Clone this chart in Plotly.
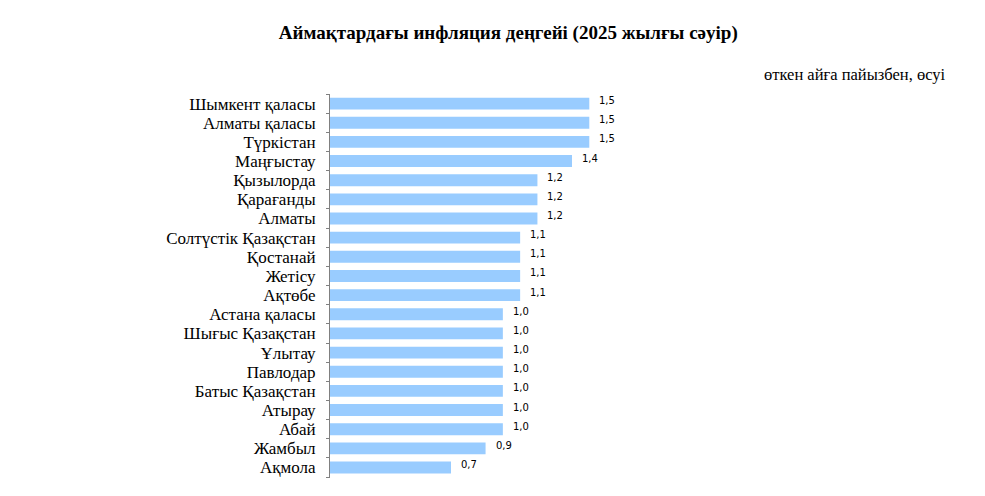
import plotly.graph_objects as go

regions = ["Шымкент қаласы", "Алматы қаласы", "Түркістан", "Маңғыстау", "Қызылорда",
           "Қарағанды", "Алматы", "Солтүстік Қазақстан", "Қостанай", "Жетісу", "Ақтөбе",
           "Астана қаласы", "Шығыс Қазақстан", "Ұлытау", "Павлодар", "Батыс Қазақстан",
           "Атырау", "Абай", "Жамбыл", "Ақмола"]
values = [1.5, 1.5, 1.5, 1.4, 1.2, 1.2, 1.2, 1.1, 1.1, 1.1, 1.1,
          1.0, 1.0, 1.0, 1.0, 1.0, 1.0, 1.0, 0.9, 0.7]
labels = [f"{v:.1f}".replace(".", ",") for v in values]

fig = go.Figure(go.Bar(
    x=values, y=regions, orientation="h",
    marker=dict(color="#99CCFF", line=dict(width=0)),
    width=0.62, hoverinfo="skip",
))

for r, v, t in zip(regions, values, labels):
    fig.add_annotation(x=v, y=r, text=t, showarrow=False, xanchor="left",
                       xshift=8, yshift=3,
                       font=dict(family="DejaVu Sans", size=10, color="#000000"))

fig.update_layout(
    width=985, height=496,
    margin=dict(l=330, r=50, t=94, b=18, autoexpand=False),
    paper_bgcolor="white", plot_bgcolor="white",
    showlegend=False,
    title=dict(text="<b>Аймақтардағы инфляция деңгейі (2025 жылғы сәуір)</b>",
               x=0.516, xanchor="center", y=1 - 32/496, yanchor="middle",
               font=dict(family="Liberation Serif", size=19, color="#000000")),
    xaxis=dict(range=[0, 3.5], visible=False),
    yaxis=dict(categoryorder="array", categoryarray=regions, autorange="reversed",
               automargin=False, tickmode="array", tickvals=regions, ticktext=regions,
               showline=True, linecolor="#808080", linewidth=1,
               ticks="outside", tickson="boundaries", ticklen=3, tickcolor="#808080",
               ticklabelstandoff=10, showgrid=False,
               tickfont=dict(family="Liberation Serif", size=17, color="#000000")),
)

fig.add_annotation(xref="paper", yref="paper", x=(947-330)/605, y=1 + (94-74)/384,
                   xanchor="right", yanchor="middle", showarrow=False,
                   text="өткен айға пайызбен, өсуі",
                   font=dict(family="Liberation Serif", size=16.5, color="#000000"))

fig.write_html("out.html", config={"displayModeBar": False},
               post_script="document.body.style.margin='0';")
